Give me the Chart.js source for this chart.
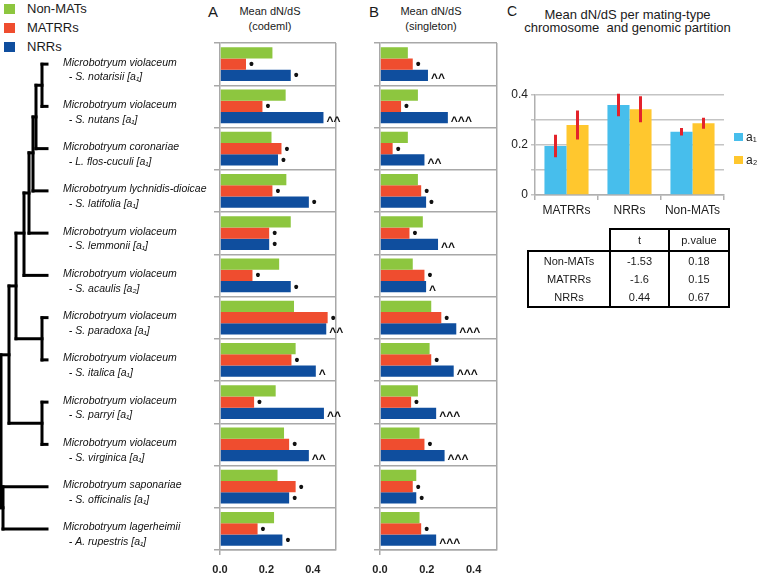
<!DOCTYPE html>
<html>
<head>
<meta charset="utf-8">
<script src="https://cdn.jsdelivr.net/npm/chart.js@4.4.0/dist/chart.umd.min.js"></script>
<style>
  body { margin: 0; width: 761px; height: 576px; position: relative; background: #fff; overflow: hidden;
         font-family: "Liberation Sans", Arial, sans-serif; color: #1a1a1a; }
  canvas, .abs { position: absolute; }
  .letter { font-size: 15px; }
  .ttl { font-size: 11px; text-align: center; line-height: 15px; }
  .leg { font-size: 13px; left: 4px; }
  .leg span { display: inline-block; width: 11px; height: 10px; margin-right: 12px; vertical-align: -1px; }
  #tbl { left: 527px; top: 228px; border-collapse: collapse; font-size: 11px; }
  #tbl td { padding: 0; text-align: center; height: 18px; border: 0; }
  #tbl tr.head td { height: 20px; border: 2px solid #000; }
  #tbl tr.head td.blank { border-top: 0; border-left: 0; border-right: 0; }
  #tbl td.body { border-left: 2px solid #000; border-right: 2px solid #000; }
  #tbl tr.last td { border-bottom: 2px solid #000; }
</style>
</head>
<body>

<div class="abs leg" style="top:1px"><span id="lg0"></span><b id="lt0" style="font-weight:normal"></b></div>
<div class="abs leg" style="top:20px"><span id="lg1"></span><b id="lt1" style="font-weight:normal"></b></div>
<div class="abs leg" style="top:39px"><span id="lg2"></span><b id="lt2" style="font-weight:normal"></b></div>

<div class="abs letter" style="left:208px;top:3px">A</div>
<div class="abs ttl" style="left:228px;top:4px;width:84px">Mean dN/dS<br>(codeml)</div>
<div class="abs letter" style="left:369px;top:3px">B</div>
<div class="abs ttl" style="left:386px;top:4px;width:90px">Mean dN/dS<br>(singleton)</div>
<div class="abs letter" style="left:507px;top:3px;font-size:14px">C</div>
<div class="abs ttl" style="left:510px;top:8px;width:235px;font-size:13px;line-height:13px">Mean dN/dS per mating-type<br>chromosome&nbsp; and genomic partition</div>

<canvas id="tree" width="52" height="576" style="left:0;top:0"></canvas>
<canvas id="chartA" width="291" height="576" style="left:63px;top:0"></canvas>
<canvas id="chartB" width="160" height="576" style="left:355px;top:0"></canvas>
<canvas id="chartC" width="261" height="225" style="left:500px;top:0"></canvas>
<table id="tbl" class="abs"></table>

<script>
// ---- data ----
var seriesNames = ["Non-MATs", "MATRRs", "NRRs"];
var seriesColors = ["#8DC63F", "#EF4D2F", "#0F4E9E"];

var species = [
  ["Microbotryum violaceum", "  - S. notarisii [a\u2081]"],
  ["Microbotryum violaceum", "  - S. nutans [a\u2081]"],
  ["Microbotryum coronariae", "  - L. flos-cuculi [a\u2081]"],
  ["Microbotryum lychnidis-dioicae", "  - S. latifolia [a\u2081]"],
  ["Microbotryum violaceum", "  - S. lemmonii [a\u2081]"],
  ["Microbotryum violaceum", "  - S. acaulis [a\u2082]"],
  ["Microbotryum violaceum", "  - S. paradoxa [a\u2081]"],
  ["Microbotryum violaceum", "  - S. italica [a\u2081]"],
  ["Microbotryum violaceum", "  - S. parryi [a\u2081]"],
  ["Microbotryum violaceum", "  - S. virginica [a\u2081]"],
  ["Microbotryum saponariae", "  - S. officinalis [a\u2081]"],
  ["Microbotryum lagerheimii", "  - A. rupestris [a\u2081]"]
];

// A: mean dN/dS (codeml)
var codemlNonMat = [0.226, 0.283, 0.222, 0.286, 0.305, 0.255, 0.319, 0.326, 0.240, 0.276, 0.248, 0.233];
var codemlMatrr  = [0.112, 0.183, 0.265, 0.226, 0.212, 0.140, 0.464, 0.308, 0.147, 0.298, 0.326, 0.162];
var codemlNrr    = [0.305, 0.446, 0.250, 0.383, 0.212, 0.305, 0.458, 0.413, 0.448, 0.383, 0.298, 0.269];
var codemlMatrrSig = ["•", "•", "•", "•", "•", "•", "•", "•", "•", "•", "•", "•"];
var codemlNrrSig   = ["•", "^^", "•", "•", "•", "•", "^^", "^", "^^", "^^", "•", "•"];

// B: mean dN/dS (singleton)
var singNonMat = [0.119, 0.162, 0.119, 0.162, 0.183, 0.140, 0.219, 0.212, 0.162, 0.169, 0.155, 0.169];
var singMatrr  = [0.140, 0.090, 0.054, 0.176, 0.126, 0.190, 0.262, 0.219, 0.133, 0.190, 0.140, 0.176];
var singNrr    = [0.205, 0.290, 0.190, 0.197, 0.248, 0.197, 0.326, 0.315, 0.240, 0.276, 0.155, 0.240];
var singMatrrSig = ["•", "•", "•", "•", "•", "•", "•", "•", "•", "•", "•", "•"];
var singNrrSig   = ["^^", "^^^", "^^", "•", "^^", "^", "^^^", "^^^", "^^^", "^^^", "•", "^^^"];

// C: per mating-type chromosome
var partitions = ["MATRRs", "NRRs", "Non-MATs"];
var a1Mean = [0.196, 0.360, 0.253];
var a1Err  = [0.045, 0.045, 0.015];
var a2Mean = [0.280, 0.343, 0.287];
var a2Err  = [0.058, 0.052, 0.022];

var tableHead = ["", "t", "p.value"];
var tableRows = [["Non-MATs", "-1.53", "0.18"], ["MATRRs", "-1.6", "0.15"], ["NRRs", "0.44", "0.67"]];

// tree: segments [x1, y1, x2, y2], y = leaf number (1 at top)
var treeSegments = [
  [42, 1, 47, 1], [42, 2, 47, 2], [42, 1, 42, 2],
  [36, 1.5, 42, 1.5], [36, 3, 47, 3], [36, 1.5, 36, 3],
  [33, 2.25, 36, 2.25], [33, 4, 47, 4], [33, 2.25, 33, 4],
  [29, 3.1, 33, 3.1], [29, 5, 47, 5], [29, 3.1, 29, 5],
  [24, 4.05, 29, 4.05], [24, 6, 47, 6], [24, 4.05, 24, 6],
  [42, 7, 47, 7], [42, 8, 47, 8], [42, 7, 42, 8],
  [16, 5, 24, 5], [16, 7.5, 42, 7.5], [16, 5, 16, 7.5],
  [42, 9, 47, 9], [42, 10, 47, 10], [42, 9, 42, 10],
  [9, 6.25, 16, 6.25], [9, 9.5, 42, 9.5], [9, 6.25, 9, 9.5],
  [3, 11, 47, 11], [3, 12, 47, 12], [3, 11, 3, 12],
  [1, 7.88, 9, 7.88], [1, 11.5, 3, 11.5], [1, 7.88, 1, 11.5]
];

var FONT = "'Liberation Sans', 'DejaVu Sans', Arial, sans-serif";
var gridGray = "#A8A8A8";

// legend top-left
seriesNames.forEach(function (n, i) {
  document.getElementById("lg" + i).style.background = seriesColors[i];
  document.getElementById("lt" + i).textContent = n;
});

// significance marks after the end of bars
var markPlugin = {
  id: "barMarks",
  afterDatasetsDraw: function (chart) {
    var ctx = chart.ctx;
    chart.data.datasets.forEach(function (ds, i) {
      if (!ds.marks) return;
      chart.getDatasetMeta(i).data.forEach(function (bar, j) {
        var m = ds.marks[j];
        if (!m) return;
        ctx.save();
        ctx.fillStyle = "#111";
        ctx.textAlign = "left";
        ctx.textBaseline = "alphabetic";
        if (m === "•") {
          ctx.font = "bold 14px " + FONT;
          ctx.fillText(m, bar.x + 3, bar.y + 5);
        } else {
          ctx.font = "bold 12px " + FONT;
          ctx.fillText(m, bar.x + 3, bar.y + 7);
        }
        ctx.restore();
      });
    });
  }
};

function hbarConfig(nonMat, matrr, nrr, matrrSig, nrrSig, showLabels, axisWidth) {
  return {
    type: "bar",
    data: {
      labels: species,
      datasets: [
        { label: seriesNames[0], data: nonMat, backgroundColor: seriesColors[0] },
        { label: seriesNames[1], data: matrr, backgroundColor: seriesColors[1], marks: matrrSig },
        { label: seriesNames[2], data: nrr, backgroundColor: seriesColors[2], marks: nrrSig }
      ]
    },
    options: {
      indexAxis: "y",
      responsive: false,
      animation: false,
      layout: { padding: { top: 43, right: 18, left: 0, bottom: 0 } },
      datasets: { bar: { categoryPercentage: 0.8, barPercentage: 1.0 } },
      plugins: { legend: { display: false }, tooltip: { enabled: false } },
      scales: {
        x: {
          min: 0, max: 0.5,
          ticks: {
            stepSize: 0.1, padding: 8, color: "#222",
            font: { family: FONT, size: 11, weight: "bold" },
            callback: function (v) {
              var k = Math.round(v * 10);
              return (k % 2 === 0 && k < 5) ? (k / 10).toFixed(1) : "";
            }
          },
          grid: {
            color: function (c) { return c.tick && Math.abs(c.tick.value - 0.5) < 1e-6 ? gridGray : "transparent"; },
            tickColor: function (c) { return c.tick && c.tick.value === 0 ? gridGray : "transparent"; },
            tickLength: 5, lineWidth: 1.5
          },
          border: { color: gridGray, width: 1.5 },
          afterFit: function (s) { s.height = 26; }
        },
        y: {
          grid: { offset: true, color: gridGray, lineWidth: 1.5, tickLength: 6 },
          border: { color: gridGray, width: 1.5 },
          ticks: {
            display: showLabels, crossAlign: "far", labelOffset: 6, color: "#111",
            font: { family: FONT, size: 10.5, style: "italic", lineHeight: 1.4 }
          },
          afterFit: function (s) { s.width = axisWidth; }
        }
      }
    },
    plugins: [markPlugin]
  };
}

new Chart(document.getElementById("chartA"),
  hbarConfig(codemlNonMat, codemlMatrr, codemlNrr, codemlMatrrSig, codemlNrrSig, true, 157));
new Chart(document.getElementById("chartB"),
  hbarConfig(singNonMat, singMatrr, singNrr, singMatrrSig, singNrrSig, false, 25));

// tree drawn as line segments on linear scales aligned with the bar categories
new Chart(document.getElementById("tree"), {
  type: "scatter",
  data: {
    datasets: treeSegments.map(function (s) {
      return {
        data: [{ x: s[0], y: s[1] }, { x: s[2], y: s[3] }],
        showLine: true, borderColor: "#000", borderWidth: 3, pointRadius: 0,
        borderCapStyle: "square", clip: false
      };
    })
  },
  options: {
    responsive: false, animation: false,
    layout: { padding: { top: 43, bottom: 26, left: 0, right: 0 } },
    plugins: { legend: { display: false }, tooltip: { enabled: false } },
    scales: {
      x: { type: "linear", min: 0, max: 52, display: false },
      y: { type: "linear", min: 0.5, max: 12.5, reverse: true, display: false }
    }
  }
});

// C: error bars + small legend on the right
var errorPlugin = {
  id: "errorBars",
  afterDatasetsDraw: function (chart) {
    var ctx = chart.ctx, ys = chart.scales.y;
    chart.data.datasets.forEach(function (ds, i) {
      chart.getDatasetMeta(i).data.forEach(function (bar, j) {
        var v = ds.data[j], e = ds.errors[j];
        ctx.save();
        ctx.strokeStyle = "#E3232B";
        ctx.lineWidth = 3;
        ctx.beginPath();
        ctx.moveTo(bar.x, ys.getPixelForValue(v + e));
        ctx.lineTo(bar.x, ys.getPixelForValue(v - e));
        ctx.stroke();
        ctx.restore();
      });
    });
  },
  afterDraw: function (chart) {
    var ctx = chart.ctx, a = chart.chartArea;
    chart.data.datasets.forEach(function (ds, i) {
      var y = 133 + i * 23;
      ctx.save();
      ctx.fillStyle = ds.backgroundColor;
      ctx.fillRect(a.right + 10, y, 9, 8);
      ctx.fillStyle = "#222";
      ctx.font = "12px " + FONT;
      ctx.textBaseline = "middle";
      ctx.fillText(ds.label, a.right + 22, y + 5);
      ctx.restore();
    });
  }
};

new Chart(document.getElementById("chartC"), {
  type: "bar",
  data: {
    labels: partitions,
    datasets: [
      { label: "a\u2081", data: a1Mean, errors: a1Err, backgroundColor: "#47BEEC" },
      { label: "a\u2082", data: a2Mean, errors: a2Err, backgroundColor: "#FFC72E" }
    ]
  },
  options: {
    responsive: false, animation: false,
    layout: { padding: { top: 95, right: 37, left: 0, bottom: 0 } },
    datasets: { bar: { categoryPercentage: 0.7, barPercentage: 1.0 } },
    plugins: { legend: { display: false }, tooltip: { enabled: false } },
    scales: {
      y: {
        min: 0, max: 0.4,
        ticks: {
          stepSize: 0.05, color: "#222", padding: 3,
          font: { family: FONT, size: 12 },
          callback: function (v) {
            var k = Math.round(v * 20);
            return k === 0 ? "0" : (k === 4 ? "0.2" : (k === 8 ? "0.4" : ""));
          }
        },
        grid: { color: "#C4C4C4", lineWidth: 1.5, tickLength: 4, tickColor: "#C4C4C4" },
        border: { color: "#B0B0B0", width: 1.5 },
        afterFit: function (s) { s.width = 35; }
      },
      x: {
        ticks: { color: "#222", font: { family: FONT, size: 12 }, padding: 3 },
        grid: {
          offset: true, lineWidth: 1.5, tickLength: 5, tickColor: "#B0B0B0",
          color: function (c) { return c.index === 3 ? "#C4C4C4" : "transparent"; }
        },
        border: { color: "#B0B0B0", width: 1.5 },
        afterFit: function (s) { s.height = 30; }
      }
    }
  },
  plugins: [errorPlugin]
});

// t-test table
(function () {
  var tbl = document.getElementById("tbl");
  var widths = [81, 57, 58];
  var tr = document.createElement("tr");
  tr.className = "head";
  tableHead.forEach(function (h, i) {
    var td = document.createElement("td");
    td.textContent = h;
    td.style.width = widths[i] + "px";
    if (i === 0) td.className = "blank";
    tr.appendChild(td);
  });
  tbl.appendChild(tr);
  tableRows.forEach(function (row, r) {
    var tr = document.createElement("tr");
    if (r === tableRows.length - 1) tr.className = "last";
    row.forEach(function (cell) {
      var td = document.createElement("td");
      td.className = "body";
      td.textContent = cell;
      tr.appendChild(td);
    });
    tbl.appendChild(tr);
  });
})();
</script>
</body>
</html>
